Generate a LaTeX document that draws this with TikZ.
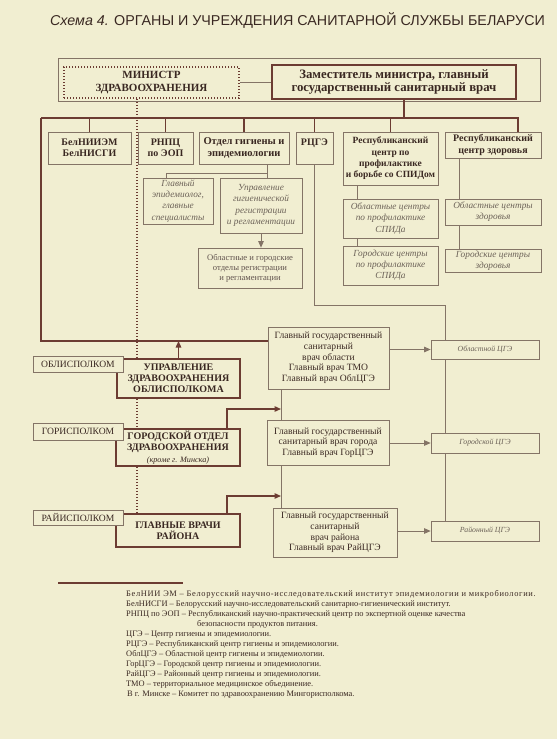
\documentclass[tikz,border=0pt]{standalone}
\usepackage{fontspec}
\setmainfont{Liberation Serif}
\newfontfamily\headfont{Liberation Sans}
\usetikzlibrary{arrows.meta, positioning, calc}
\definecolor{paper}{RGB}{241,238,209}
\definecolor{inkbrown}{RGB}{108,60,50}
\definecolor{inkgray}{RGB}{132,116,102}
\definecolor{txtdark}{RGB}{58,40,34}
\definecolor{txtgray}{RGB}{108,98,88}

\begin{document}
\begin{tikzpicture}[x=1pt,y=-1pt,
	every node/.style={inner sep=1pt,align=center,text=txtdark},
	sz/.style 2 args={minimum width=#1pt,minimum height=#2pt},
	mainbox/.style={draw=inkbrown,line width=1.5pt,fill=paper,font=\bfseries\fontsize{10}{11.2}\selectfont},
	unitbox/.style={draw=inkgray,line width=0.9pt,fill=paper,font=\bfseries\fontsize{10}{11.4}\selectfont},
	subbox/.style={draw=inkgray,line width=0.7pt,fill=paper,text=txtgray,font=\itshape\fontsize{9.3}{11.2}\selectfont},
	docbox/.style={draw=inkgray,line width=0.8pt,fill=paper,font=\fontsize{9.6}{10.7}\selectfont},
	ispbox/.style={draw=inkgray,line width=0.8pt,fill=paper,font=\fontsize{9.6}{10}\selectfont},
	bus/.style={draw=inkbrown,line width=1.3pt},
	link/.style={draw=inkgray,line width=0.8pt},
	dotline/.style={draw=inkbrown,line width=1.5pt,dash pattern=on 1.4pt off 1.6pt},
	arr/.style={-{Triangle[length=6.5pt,width=5.5pt]}}]
\fill[paper] (0,0) rectangle (557,739);
\useasboundingbox (0,0) rectangle (557,739);

% title
\node[font=\headfont\fontsize{14.3}{16}\selectfont] (title) at (297.5,20)
	{{\itshape Схема 4.} ОРГАНЫ И УЧРЕЖДЕНИЯ САНИТАРНОЙ СЛУЖБЫ БЕЛАРУСИ};

% ministry level
\node[link,sz={482}{43}] (topframe) at (299,79.5){};
\node[dotline,fill=paper,sz={175}{31},font=\bfseries\fontsize{11}{12.6}\selectfont]
	(minister) at (151.5,82.5) {МИНИСТР\\ЗДРАВООХРАНЕНИЯ};
\node[mainbox,sz={244}{34},font=\bfseries\fontsize{12.8}{12.6}\selectfont]
	(zam) at (394,82) {Заместитель министра, главный\\государственный санитарный врач};
\draw[link] (minister.east) -- (zam.west |- minister.east);

% republican institutions
\node[unitbox,sz={83}{32}] (belnii) at (89.5,148) {БелНИИЭМ\\БелНИСГИ};
\node[unitbox,sz={55}{32}] (rnpc) at (165.5,148) {РНПЦ\\по ЭОП};
\node[unitbox,sz={90}{32},font=\bfseries\fontsize{10.5}{11.4}\selectfont] (otdel) at (244,148)
	{Отдел гигиены и\\эпидемиологии};
\node[unitbox,sz={37}{32}] (rcge) at (314.5,148) {РЦГЭ\\\phantom{Р}};
\node[unitbox,sz={95}{53},font=\bfseries\fontsize{9.5}{11.4}\selectfont] (spid) at (390.5,158.5)
	{Республиканский\\центр по\\профилактике\\и борьбе со СПИДом};
\node[unitbox,sz={96}{26}] (zdor) at (493,145) {Республиканский\\центр здоровья};

\coordinate (busL) at (41,118);
\coordinate (busR) at (519,118);
\coordinate (zamdown) at (404,118);
\draw[bus] (zamdown |- zam.south) -- (zamdown);
\draw[bus] (busL) -- (busR);
\foreach \n in {belnii,rnpc,otdel,rcge,spid}\draw[bus] (\n.north) -- (\n.north |- busL);
\draw[bus] ([xshift=25pt]zdor.north) -- ([xshift=25pt]zdor.north |- busR);

% under the department
\node[subbox,sz={70}{46}] (glepid) at (178,201) {Главный\\эпидемиолог,\\главные\\специалисты};
\node[subbox,sz={82}{55}] (upreg) at (261,205.5)
	{Управление\\гигиенической\\регистрации\\и регламентации};
\node[subbox,text=txtdark!80,font=\fontsize{8.6}{10}\selectfont,sz={104}{40}] (oblreg) at (250,268)
	{Областные и городские\\отделы регистрации\\и регламентации};
\coordinate (brk) at (267,173);
\draw[link] (brk |- otdel.south) -- (brk |- upreg.north);
\draw[link] (brk) -| ([xshift=-12pt]glepid.north);
\draw[link,arr] (upreg.south) -- (upreg.south |- oblreg.north);

% AIDS and health centres
\node[subbox,sz={95}{39}] (spidobl) at (390.5,218.5) {Областные центры\\по профилактике\\СПИДа};
\node[subbox,sz={95}{39}] (spidgor) at (390.5,265.5) {Городские центры\\по профилактике\\СПИДа};
\node[subbox,sz={96}{26}] (zdorobl) at (493,212) {Областные центры\\здоровья};
\node[subbox,sz={96}{23}] (zdorgor) at (493,260.5) {Городские центры\\здоровья};
\coordinate (spidx) at (357,0);
\coordinate (zdorx) at (459,0);
\draw[link] (spidx |- spid.south) -- (spidx |- spidobl.north);
\draw[link] (spidx |- spidobl.south) -- (spidx |- spidgor.north);
\draw[link] (zdorx |- zdor.south) -- (zdorx |- zdorobl.north);
\draw[link] (zdorx |- zdorobl.south) -- (zdorx |- zdorgor.north);

% local authorities
\node[mainbox,sz={123}{39}] (uprobl) at (178.5,378.5) {УПРАВЛЕНИЕ\\ЗДРАВООХРАНЕНИЯ\\ОБЛИСПОЛКОМА};
\node[mainbox,sz={124}{37}] (gorotdel) at (178,447.5)
	{ГОРОДСКОЙ ОТДЕЛ\\ЗДРАВООХРАНЕНИЯ\\{\mdseries\itshape\fontsize{8.2}{9}\selectfont(кроме г. Минска)}};
\node[mainbox,sz={124}{33}] (glvrach) at (178,530.5) {ГЛАВНЫЕ ВРАЧИ\\РАЙОНА};
\node[ispbox,sz={90}{16}] (oblisp) at (78,364) {ОБЛИСПОЛКОМ};
\node[ispbox,sz={90}{17}] (gorisp) at (78,431.5) {ГОРИСПОЛКОМ};
\node[ispbox,sz={90}{15}] (raiisp) at (78,517.5) {РАЙИСПОЛКОМ};

\coordinate (spine) at (137,0);
\draw[dotline] (spine |- minister.south) -- (spine |- uprobl.north);
\draw[dotline] (spine |- uprobl.south) -- (spine |- gorotdel.north);
\draw[dotline] (spine |- gorotdel.south) -- (spine |- glvrach.north);

% chief sanitary doctors
\node[docbox,sz={121}{62}] (oblvrach) at (328.5,358)
	{Главный государственный\\санитарный\\врач области\\Главный врач ТМО\\Главный врач ОблЦГЭ};
\node[docbox,sz={122}{45}] (gorvrach) at (328,442.5)
	{Главный государственный\\санитарный врач города\\Главный врач ГорЦГЭ};
\node[docbox,sz={124}{49}] (raivrach) at (335,532.5)
	{Главный государственный\\санитарный\\врач района\\Главный врач РайЦГЭ};

\coordinate (busLL) at (41,341);
\draw[bus] (busL) -- (busLL) -- (busLL -| oblvrach.west);
\draw[bus,arr] (uprobl.north) -- (uprobl.north |- busLL);

\coordinate (vx) at (281,0);
\coordinate (rise) at (227,0);
\coordinate (gorin) at (281,409);
\coordinate (raiin) at (281,496);
\draw[link] (vx |- oblvrach.south) -- (vx |- gorvrach.north);
\draw[link] (vx |- gorvrach.south) -- (vx |- raivrach.north);
\draw[bus,arr] (rise |- gorotdel.north) |- (gorin);
\draw[bus,arr] (rise |- glvrach.north) |- (raiin);

% centres of hygiene and epidemiology
\node[subbox,sz={108}{19},font=\itshape\fontsize{7.8}{9}\selectfont] (cgeobl) at (485,349.5) {Областной ЦГЭ};
\node[subbox,sz={108}{20},font=\itshape\fontsize{7.8}{9}\selectfont] (cgegor) at (485,443) {Городской ЦГЭ};
\node[subbox,sz={108}{20},font=\itshape\fontsize{7.8}{9}\selectfont] (cgerai) at (485,531) {Районный ЦГЭ};
\coordinate (rbend) at (445,305);
\draw[link] (rcge.south) |- (rbend) -- (rbend |- cgeobl.north);
\draw[link] (rbend |- cgeobl.south) -- (rbend |- cgegor.north);
\draw[link] (rbend |- cgegor.south) -- (rbend |- cgerai.north);
\draw[link,arr] (oblvrach.east |- cgeobl.west) -- (cgeobl.west);
\draw[link,arr] (gorvrach.east |- cgegor.west) -- (cgegor.west);
\draw[link,arr] (raivrach.east |- cgerai.west) -- (cgerai.west);

% abbreviations
\draw[bus] (58,583) -- (183,583);
\node[anchor=north west,align=left,font=\fontsize{8.4}{10}\selectfont] (notes) at (125,589)
	{{\addfontfeature{LetterSpace=8}БелНИИ ЭМ -- Белорусский научно-исследовательский институт эпидемиологии и микробиологии.}\\
	БелНИСГИ -- Белорусский научно-исследовательский санитарно-гигиенический институт.\\
	РНПЦ по ЭОП -- Республиканский научно-практический центр по экспертной оценке качества\\
	\hspace*{71pt}безопасности продуктов питания.\\
	ЦГЭ -- Центр гигиены и эпидемиологии.\\
	РЦГЭ -- Республиканский центр гигиены и эпидемиологии.\\
	ОблЦГЭ -- Областной центр гигиены и эпидемиологии.\\
	ГорЦГЭ -- Городской центр гигиены и эпидемиологии.\\
	РайЦГЭ -- Районный центр гигиены и эпидемиологии.\\
	ТМО -- территориальное медицинское объединение.\\
	\hspace*{1pt}В г. Минске -- Комитет по здравоохранению Мингорисполкома.};
\end{tikzpicture}
\end{document}
